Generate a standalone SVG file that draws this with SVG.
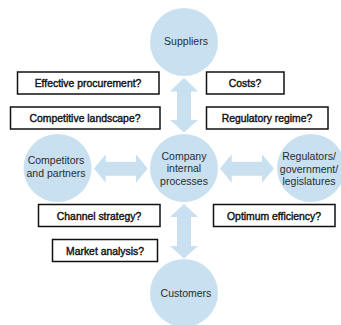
<svg xmlns="http://www.w3.org/2000/svg" width="341" height="325" viewBox="0 0 341 325">
<style>
.c{fill:#c9e0f1}
.a{fill:#c9e0f1}
.b{fill:#fff;stroke:#111;stroke-width:1.5}
text{font-family:"Liberation Sans",Arial,sans-serif;text-anchor:middle}
.n{font-size:10.5px;fill:#2b2b2b}
.q{font-size:10.4px;fill:#111;stroke:#111;stroke-width:.4}
</style>
<rect width="341" height="325" fill="#fff"/>
<g id="connectors">
<polygon class="a" points="184,78 198,91.500 191,91.500 191,120 198,120 184,132.500 170,120 177,120 177,91.500 170,91.500"/>
<polygon class="a" points="184,204 198,217 191,217 191,246 198,246 184,258.500 170,246 177,246 177,217 170,217"/>
<polygon class="a" points="94,168.500 105.700,154.300 105.700,161.700 136,161.700 136,154.300 147.700,168.500 136,182.700 136,175.700 105.700,175.700 105.700,182.700"/>
<polygon class="a" points="220,168.500 231.700,154.300 231.700,161.700 262,161.700 262,154.300 274,168.500 262,182.700 262,175.700 231.700,175.700 231.700,182.700"/>
</g>
<g id="suppliers"><circle class="c" cx="184" cy="42" r="34"/><text class="n" x="186" y="44.500">Suppliers</text></g>
<g id="company"><circle class="c" cx="184" cy="168" r="34"/><text class="n"><tspan x="184" y="159.500">Company</tspan><tspan x="184" y="172">internal</tspan><tspan x="184" y="185">processes</tspan></text></g>
<g id="competitors"><circle class="c" cx="57.500" cy="168" r="34"/><text class="n"><tspan x="56" y="164">Competitors</tspan><tspan x="56" y="176.500">and partners</tspan></text></g>
<g id="regulators"><circle class="c" cx="311" cy="168" r="34"/><text class="n"><tspan x="309" y="160">Regulators/</tspan><tspan x="309" y="172.500">government/</tspan><tspan x="309" y="185">legislatures</tspan></text></g>
<g id="customers"><circle class="c" cx="184" cy="293" r="34"/><text class="n" x="186" y="297">Customers</text></g>
<g id="q-procurement"><rect class="b" x="17.500" y="72" width="141.500" height="22"/><text class="q" x="88" y="87">Effective procurement?</text></g>
<g id="q-costs"><rect class="b" x="206.500" y="72" width="77.500" height="22"/><text class="q" x="245" y="87">Costs?</text></g>
<g id="q-landscape"><rect class="b" x="10.500" y="107" width="149.500" height="22"/><text class="q" x="85" y="122">Competitive landscape?</text></g>
<g id="q-regime"><rect class="b" x="206.500" y="107" width="121.500" height="22"/><text class="q" x="267" y="122">Regulatory regime?</text></g>
<g id="q-channel"><rect class="b" x="38.500" y="204.500" width="121.500" height="22"/><text class="q" x="99" y="220">Channel strategy?</text></g>
<g id="q-efficiency"><rect class="b" x="213.500" y="204.500" width="121.500" height="22"/><text class="q" x="274" y="220">Optimum efficiency?</text></g>
<g id="q-market"><rect class="b" x="52.500" y="239.500" width="105" height="22"/><text class="q" x="105" y="255">Market analysis?</text></g>
</svg>
